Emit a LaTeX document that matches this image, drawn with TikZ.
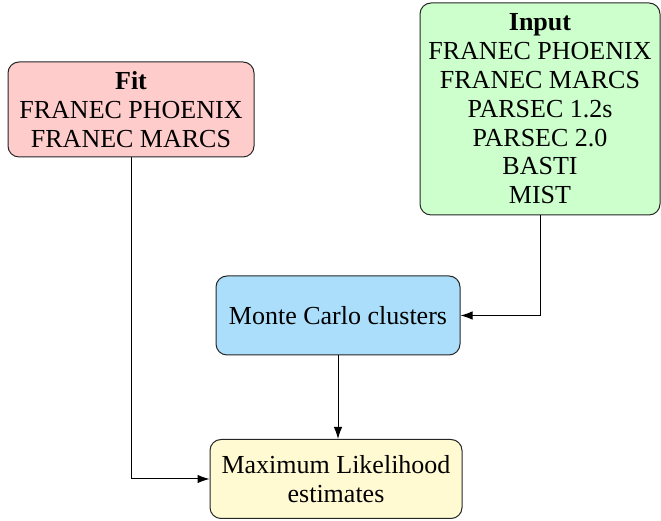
\documentclass[tikz,border=0pt]{standalone}
\usepackage{fontspec}
\setmainfont{Liberation Serif}
\usetikzlibrary{arrows.meta}
\definecolor{fitfill}{RGB}{255,204,204}
\definecolor{inputfill}{RGB}{204,255,204}
\definecolor{mcfill}{RGB}{170,222,250}
\definecolor{mlfill}{RGB}{255,250,210}
\tikzset{
  box/.style={draw=black!85, line width=1pt, rounded corners=11pt, align=center,
    inner sep=0pt, font=\fontsize{26}{28.8}\selectfont},
  conn/.style={line width=1pt, -{Latex[length=12pt,width=8.5pt]}}
}
\begin{document}
\begin{tikzpicture}[x=1pt,y=1pt]
  \useasboundingbox (0,0) rectangle (661,521);
  \node[box, fill=fitfill, minimum width=246pt, minimum height=95pt] (fit) at (131,411.5)
    {\textbf{Fit}\\FRANEC PHOENIX\\FRANEC MARCS};
  \node[box, fill=inputfill, minimum width=240pt, minimum height=212pt] (input) at (540,412)
    {\textbf{Input}\\FRANEC PHOENIX\\FRANEC MARCS\\PARSEC 1.2s\\PARSEC 2.0\\BASTI\\MIST};
  \node[box, fill=mcfill, minimum width=244pt, minimum height=79pt] (mc) at (338,205.5)
    {Monte Carlo clusters};
  \node[box, fill=mlfill, minimum width=252pt, minimum height=79pt] (ml) at (336,42)
    {Maximum Likelihood\\estimates};
  \draw[conn] (input.south) |- (mc.east);
  \draw[conn] (mc.south) -- (mc.south |- ml.north);
  \draw[conn] (fit.south) |- (ml.west);
\end{tikzpicture}
\end{document}
